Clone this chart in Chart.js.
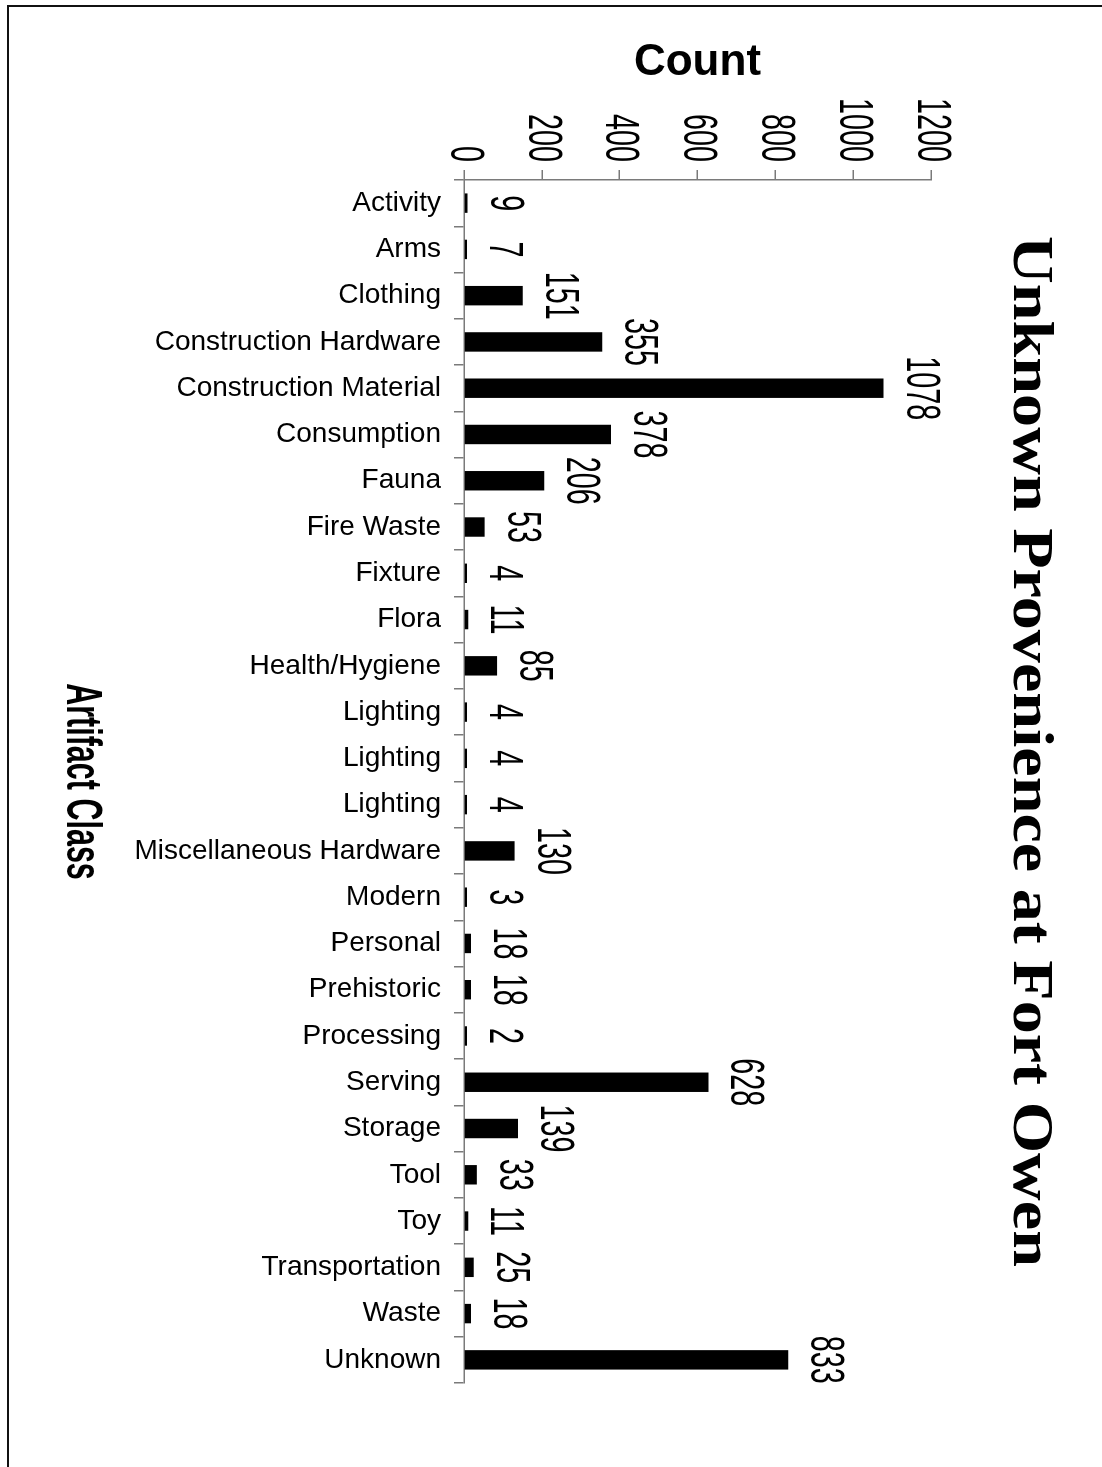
<!DOCTYPE html>
<html>
<head>
<meta charset="utf-8">
<title>Unknown Provenience at Fort Owen</title>
<script src="https://cdn.jsdelivr.net/npm/chart.js@4.4.1/dist/chart.umd.min.js"></script>
<style>
  html, body { margin: 0; padding: 0; background: #fff; overflow: hidden; }
  body { width: 1102px; height: 1467px; position: relative; }
  /* page frame: only the top and left edges show in the original scan */
  .frame { position: absolute; left: 7px; top: 5px; right: 0; bottom: 0;
           border-top: 2px solid #111; border-left: 2px solid #111; }
  /* the chart is a column chart printed sideways: draw it landscape, turn it 90deg clockwise */
  .turn { position: absolute; left: 0; top: 0; width: 1467px; height: 1102px;
          transform-origin: 0 0; transform: translateX(1102px) rotate(90deg); }
</style>
</head>
<body>
<div class="frame"></div>
<div class="turn"><canvas id="chart" width="1467" height="1102"></canvas></div>
<script>
const categories = [
  'Activity', 'Arms', 'Clothing', 'Construction Hardware', 'Construction Material',
  'Consumption', 'Fauna', 'Fire Waste', 'Fixture', 'Flora', 'Health/Hygiene',
  'Lighting', 'Lighting', 'Lighting', 'Miscellaneous Hardware', 'Modern',
  'Personal', 'Prehistoric', 'Processing', 'Serving', 'Storage', 'Tool', 'Toy',
  'Transportation', 'Waste', 'Unknown'
];
const counts = [9, 7, 151, 355, 1078, 378, 206, 53, 4, 11, 85, 4, 4, 4, 130, 3, 18, 18, 2, 628, 139, 33, 11, 25, 18, 833];
const countMin = 0;
const countMax = 1200;
const countStep = 200;

const titleText = 'Unknown Provenience at Fort Owen';
const valueTitle = 'Count';
const classTitle = 'Artifact Class';

const sans = '"Liberation Sans", Arial, sans-serif';
const axisGray = '#7a7a7a';

// the original uses odd-width faces; squeeze (or stretch) Liberation along the text line
function drawNarrow(ctx, text, x, y, squeeze) {
  ctx.save();
  ctx.translate(x, y);
  ctx.scale(squeeze, 1);
  ctx.fillText(text, 0, 0);
  ctx.restore();
}

// numbers above each column
const valueLabels = {
  id: 'valueLabels',
  afterDatasetsDraw(chart) {
    const ctx = chart.ctx;
    const meta = chart.getDatasetMeta(0);
    ctx.save();
    ctx.font = '48px ' + sans;
    ctx.fillStyle = '#000';
    ctx.textAlign = 'center';
    ctx.textBaseline = 'alphabetic';
    meta.data.forEach((bar, i) => {
      drawNarrow(ctx, String(counts[i]), bar.x, bar.y - 23, 0.6);
    });
    ctx.restore();
  }
};

// count tick labels and class axis title, drawn narrow from the scales' own positions
const narrowAxisText = {
  id: 'narrowAxisText',
  afterDraw(chart) {
    const {ctx, chartArea, scales} = chart;
    const y = scales.y;
    ctx.save();
    ctx.fillStyle = '#000';
    ctx.font = '48px ' + sans;
    ctx.textAlign = 'right';
    ctx.textBaseline = 'middle';
    y.ticks.forEach(t => {
      drawNarrow(ctx, String(t.value), y.right - 10 - 8, y.getPixelForValue(t.value), 0.6);
    });
    ctx.font = 'bold 50px ' + sans;
    ctx.textAlign = 'center';
    drawNarrow(ctx, classTitle, (chartArea.left + chartArea.right) / 2, chart.height - 81, 0.61);
    ctx.restore();
  }
};

// chart title, sits a little left of the plot centre like the original
const sideTitle = {
  id: 'sideTitle',
  afterDraw(chart) {
    const {ctx, chartArea} = chart;
    ctx.save();
    ctx.font = 'bold 58px "Liberation Serif", "Times New Roman", serif';
    ctx.fillStyle = '#000';
    ctx.textAlign = 'center';
    ctx.textBaseline = 'middle';
    drawNarrow(ctx, titleText, (chartArea.left + chartArea.right) / 2 - 30, 73, 1.14);
    ctx.restore();
  }
};

new Chart(document.getElementById('chart'), {
  type: 'bar',
  data: {
    labels: categories,
    datasets: [{
      data: counts,
      backgroundColor: '#000',
      borderWidth: 0,
      minBarLength: 3,
      barPercentage: 0.42,
      categoryPercentage: 1.0
    }]
  },
  options: {
    responsive: false,
    animation: false,
    layout: { padding: { top: 171, right: 84, bottom: 0, left: 0 } },
    plugins: {
      legend: { display: false },
      tooltip: { enabled: false },
      title: { display: false }
    },
    scales: {
      x: {
        grid: { display: true, drawOnChartArea: false, drawTicks: true, tickLength: 10, color: axisGray, lineWidth: 1.5, offset: true },
        border: { display: true, color: axisGray, width: 1.5 },
        ticks: {
          color: '#000',
          font: { family: sans, size: 28 },
          minRotation: 90, maxRotation: 90, padding: 13, autoSkip: false
        },
        title: { display: false, text: classTitle },
        afterFit: s => { s.height = 464; }
      },
      y: {
        min: countMin, max: countMax,
        grid: { display: true, drawOnChartArea: false, drawTicks: true, tickLength: 10, color: axisGray, lineWidth: 1.5 },
        border: { display: true, color: axisGray, width: 1.5 },
        ticks: { stepSize: countStep, display: false },
        title: {
          display: true, text: valueTitle, color: '#000',
          font: { family: sans, size: 44, weight: 'bold' },
          padding: { top: 36, bottom: 0 }
        },
        afterFit: s => { s.width = 180; }
      }
    }
  },
  plugins: [valueLabels, narrowAxisText, sideTitle]
});
</script>
</body>
</html>
